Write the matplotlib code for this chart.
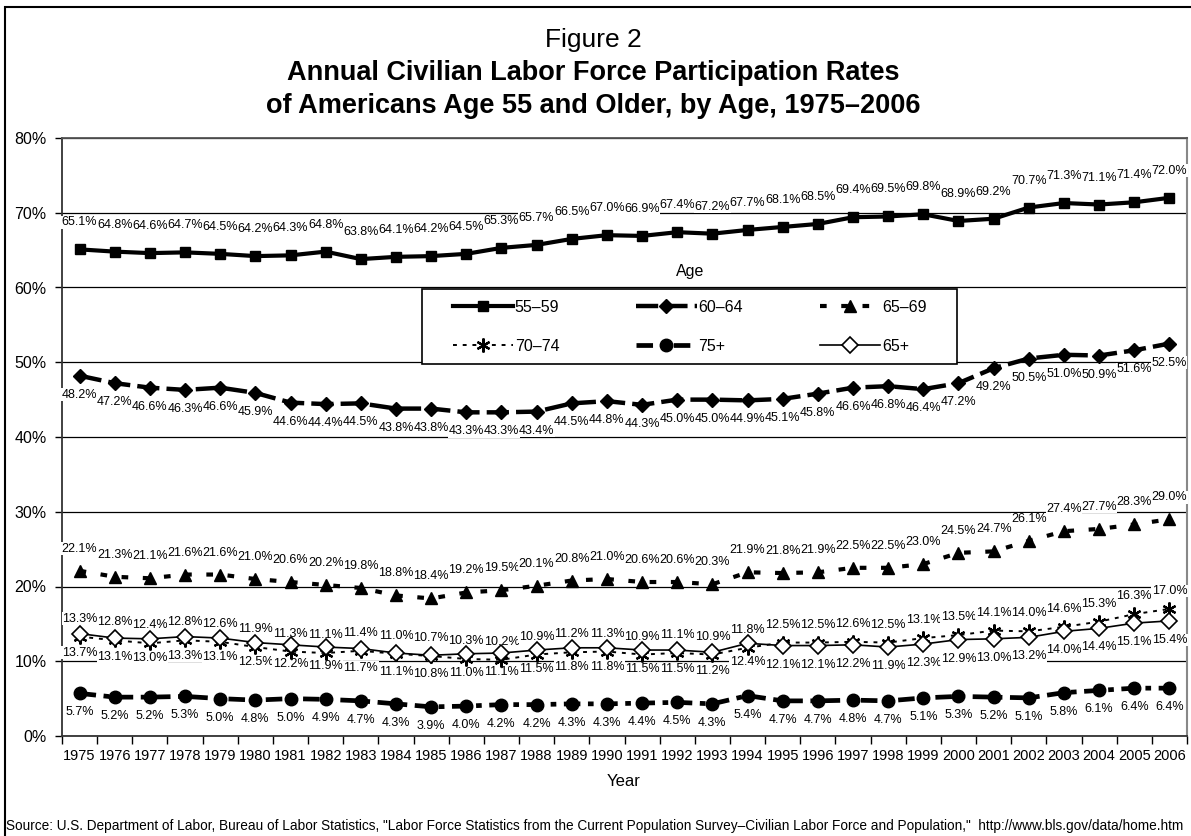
import numpy as np
import matplotlib
matplotlib.use("Agg")
import matplotlib.pyplot as plt
from matplotlib.patches import Rectangle

plt.rcParams['font.family'] = ['Liberation Sans', 'DejaVu Sans']

# Participation rates (%) by age group, 1975-2006
years = list(range(1975, 2007))
age_55_59 = [65.1, 64.8, 64.6, 64.7, 64.5, 64.2, 64.3, 64.8, 63.8, 64.1, 64.2, 64.5, 65.3, 65.7, 66.5, 67.0,
             66.9, 67.4, 67.2, 67.7, 68.1, 68.5, 69.4, 69.5, 69.8, 68.9, 69.2, 70.7, 71.3, 71.1, 71.4, 72.0]
age_60_64 = [48.2, 47.2, 46.6, 46.3, 46.6, 45.9, 44.6, 44.4, 44.5, 43.8, 43.8, 43.3, 43.3, 43.4, 44.5, 44.8,
             44.3, 45.0, 45.0, 44.9, 45.1, 45.8, 46.6, 46.8, 46.4, 47.2, 49.2, 50.5, 51.0, 50.9, 51.6, 52.5]
age_65_69 = [22.1, 21.3, 21.1, 21.6, 21.6, 21.0, 20.6, 20.2, 19.8, 18.8, 18.4, 19.2, 19.5, 20.1, 20.8, 21.0,
             20.6, 20.6, 20.3, 21.9, 21.8, 21.9, 22.5, 22.5, 23.0, 24.5, 24.7, 26.1, 27.4, 27.7, 28.3, 29.0]
age_70_74 = [13.3, 12.8, 12.4, 12.8, 12.6, 11.9, 11.3, 11.1, 11.4, 11.0, 10.7, 10.3, 10.2, 10.9, 11.2, 11.3,
             10.9, 11.1, 10.9, 11.8, 12.5, 12.5, 12.6, 12.5, 13.1, 13.5, 14.1, 14.0, 14.6, 15.3, 16.3, 17.0]
age_75_plus = [5.7, 5.2, 5.2, 5.3, 5.0, 4.8, 5.0, 4.9, 4.7, 4.3, 3.9, 4.0, 4.2, 4.2, 4.3, 4.3,
               4.4, 4.5, 4.3, 5.4, 4.7, 4.7, 4.8, 4.7, 5.1, 5.3, 5.2, 5.1, 5.8, 6.1, 6.4, 6.4]
age_65_plus = [13.7, 13.1, 13.0, 13.3, 13.1, 12.5, 12.2, 11.9, 11.7, 11.1, 10.8, 11.0, 11.1, 11.5, 11.8, 11.8,
               11.5, 11.5, 11.2, 12.4, 12.1, 12.1, 12.2, 11.9, 12.3, 12.9, 13.0, 13.2, 14.0, 14.4, 15.1, 15.4]

W, H = 1191, 836
fig = plt.figure(figsize=(W / 100, H / 100), dpi=100)
ax = fig.add_axes([62 / W, 1 - 736 / H, (1187 - 62) / W, (736 - 138) / H])

x = np.arange(len(years))

# (label, values, line kwargs, label offset in px)
series = [
    ("55\u201359", age_55_59, dict(color='black', lw=3, ls='-', marker='s', ms=7.5), 27),
    ("60\u201364", age_60_64, dict(color='black', lw=3.2, dashes=(5, 1.6), marker='D', ms=7.5), -19),
    ("65\u201369", age_65_69, dict(color='black', lw=3, dashes=(1.6, 3.5), marker='^', ms=9), 22),
    ("70\u201374", age_70_74, dict(color='black', lw=1.4, dashes=(2, 3), marker=(6, 2, 0), ms=10, mew=1.6), 18),
    ("75+", age_75_plus, dict(color='black', lw=3.4, dashes=(3.5, 1.6, 1.2, 1.6), marker='o', ms=9), -19),
    ("65+", age_65_plus, dict(color='black', lw=1.2, ls='-', marker='D', ms=8, mfc='white', mew=1.2), -19),
]

handles = {}
for name, vals, kw, dy in series:
    line, = ax.plot(x, vals, zorder=4, **kw)
    handles[name] = line
    for xi, v in zip(x, vals):
        ax.annotate(f"{v:.1f}%", (xi, v), xytext=(0, dy), textcoords='offset pixels',
                    ha='center', va='center', fontsize=9.0, zorder=3,
                    bbox=dict(facecolor='white', edgecolor='none', pad=0.3))

ax.set_xlim(-0.5, len(years) - 0.5)
ax.set_ylim(0, 80)
ax.set_yticks(range(0, 81, 10))
ax.set_yticklabels([f"{v}%" for v in range(0, 81, 10)], fontsize=11.5)
ax.set_xticks(x)
ax.set_xticklabels([str(y) for y in years], fontsize=10.5)
ax.set_xticks(np.arange(-0.5, len(years)), minor=True)
ax.tick_params(axis='x', which='major', length=0, pad=9)
ax.tick_params(axis='x', which='minor', length=6, width=1, direction='out')
ax.tick_params(axis='y', length=5, width=1, pad=6)

ax.set_axisbelow(True)
ax.yaxis.grid(True, color='black', lw=0.9)
for side in ['left', 'bottom']:
    ax.spines[side].set_color('#333333')
    ax.spines[side].set_linewidth(1.3)
ax.spines['top'].set_color('#555555')
ax.spines['top'].set_linewidth(1.3)
ax.spines['right'].set_color('#888888')
ax.spines['right'].set_linewidth(1.5)

# legend box with the "Age" heading above it; entries fill row by row
box = Rectangle((422 / W, 1 - 364 / H), (957 - 422) / W, (364 - 289) / H, transform=fig.transFigure,
                facecolor='white', edgecolor='black', lw=1.2, zorder=6, clip_on=False)
ax.add_patch(box)
order = ["55\u201359", "70\u201374", "60\u201364", "75+", "65\u201369", "65+"]
leg = ax.legend([handles[k] for k in order], order, ncol=3, loc='center',
                bbox_to_anchor=((422 + 957) / 2 / W, 1 - 327 / H), bbox_transform=fig.transFigure,
                frameon=False, fontsize=11.5, handlelength=3.8, handletextpad=0.1,
                columnspacing=4.8, labelspacing=1.5)
leg.set_zorder(7)
fig.text(690 / W, 1 - 272 / H, "Age", ha='center', va='center', fontsize=11.5)

fig.text(593 / W, 1 - 40 / H, "Figure 2", ha='center', va='center', fontsize=19)
fig.text(593 / W, 1 - 73 / H, "Annual Civilian Labor Force Participation Rates", ha='center', va='center',
         fontsize=19.5, fontweight='bold')
fig.text(593 / W, 1 - 106 / H, "of Americans Age 55 and Older, by Age, 1975\u20132006", ha='center',
         va='center', fontsize=19.5, fontweight='bold')
fig.text(624 / W, 1 - 781 / H, "Year", ha='center', va='center', fontsize=12)
fig.text(6 / W, 1 - 826 / H,
         'Source: U.S. Department of Labor, Bureau of Labor Statistics, "Labor Force Statistics from the Current '
         'Population Survey\u2013Civilian Labor Force and Population,"  http://www.bls.gov/data/home.htm',
         ha='left', va='center', fontsize=9.8)

# outer frame
fig.patches.append(Rectangle((5 / W, -0.01), 1.0, 1 - 7 / H + 0.01, transform=fig.transFigure,
                             facecolor='none', edgecolor='black', lw=1.5))

fig.savefig("out.png", dpi=100)
